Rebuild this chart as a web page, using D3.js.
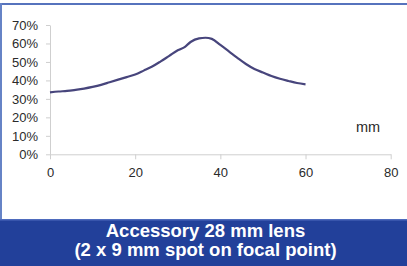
<!DOCTYPE html>
<html>
<head>
<meta charset="utf-8">
<script src="https://cdn.jsdelivr.net/npm/d3@7"></script>
<style>
  body { margin: 0; background: #fff; }
  text { font-family: "Liberation Sans", Arial, sans-serif; }
</style>
</head>
<body>
<div id="vis"></div>
<script>
// data: distance (mm) and relative intensity (%)
var distance = [0, 2, 4, 6, 8, 10, 12, 14, 16, 18, 20, 22, 24, 26, 28, 30, 31.7, 33, 35, 36.5, 38, 40, 42, 44, 46, 48, 50, 52, 54, 56, 58, 60];
var intensity = [33.5, 34.0, 34.3, 34.9, 35.6, 36.5, 37.6, 39.0, 40.4, 41.8, 43.2, 45.3, 47.5, 50.3, 53.3, 56.3, 58.2, 60.8, 62.8, 63.1, 62.5, 59.2, 55.7, 52.2, 48.9, 46.2, 44.3, 42.4, 40.9, 39.7, 38.6, 37.9];
var xTicks = [0, 20, 40, 60, 80];
var yTicks = [0, 10, 20, 30, 40, 50, 60, 70];
var titleLines = ["Accessory 28 mm lens", "(2 x 9 mm spot on focal point)"];

var width = 407, height = 266;

var svg = d3.select("#vis").append("svg")
    .attr("width", width)
    .attr("height", height);

//frame
svg.append("rect").attr("x", 0).attr("y", 3).attr("width", width).attr("height", 2).attr("fill", "#5673bd");
svg.append("rect").attr("x", 0).attr("y", 3).attr("width", 2).attr("height", 217).attr("fill", "#6683c6");

//scales
var x = d3.scaleLinear().domain([0, 80]).range([50, 390.7]);
var y = d3.scaleLinear().domain([0, 70]).range([154.3, 25]);

//axes
var xAxis = svg.append("g")
    .attr("transform", "translate(0," + y(0) + ")")
    .call(d3.axisBottom(x).tickValues(xTicks).tickSize(5).tickPadding(8).tickSizeOuter(0));

var yAxis = svg.append("g")
    .attr("transform", "translate(" + x(0) + ",0)")
    .call(d3.axisLeft(y).tickValues(yTicks).tickSize(4).tickPadding(8).tickSizeOuter(0)
      .tickFormat(function(d) { return d + "%"; }));

[xAxis, yAxis].forEach(function(a) {
  a.select(".domain").attr("stroke", "#cfcfcf");
  a.selectAll(".tick line").attr("stroke", "#cfcfcf");
  a.selectAll(".tick text")
    .attr("fill", "#2a2a2a")
    .attr("font-size", 13)
    .style("font-family", "'Liberation Sans', Arial, sans-serif");
});

svg.append("text")
    .attr("x", 368)
    .attr("y", 131.5)
    .attr("text-anchor", "middle")
    .attr("fill", "#2a2a2a")
    .attr("font-size", 14.5)
    .text("mm");

//curve
var pts = distance.map(function(d, i) { return [d, intensity[i]]; });
var line = d3.line()
    .x(function(d) { return x(d[0]); })
    .y(function(d) { return y(d[1]); })
    .curve(d3.curveMonotoneX);

svg.append("path")
    .datum(pts)
    .attr("fill", "none")
    .attr("stroke", "#47457c")
    .attr("stroke-width", 2.2)
    .attr("d", line);

//title banner
svg.append("rect").attr("x", 0).attr("y", 219).attr("width", width).attr("height", height - 219).attr("fill", "#22409a");
svg.append("rect").attr("x", 0).attr("y", 219).attr("width", width).attr("height", 1.5).attr("fill", "#4e6bbd");

svg.selectAll(".title")
    .data(titleLines)
  .enter().append("text")
    .attr("class", "title")
    .attr("x", 205.5)
    .attr("y", function(d, i) { return 236.7 + i * 19.5; })
    .attr("text-anchor", "middle")
    .attr("fill", "#fff")
    .attr("font-size", 18.5)
    .attr("font-weight", "bold")
    .text(function(d) { return d; });
</script>
</body>
</html>
